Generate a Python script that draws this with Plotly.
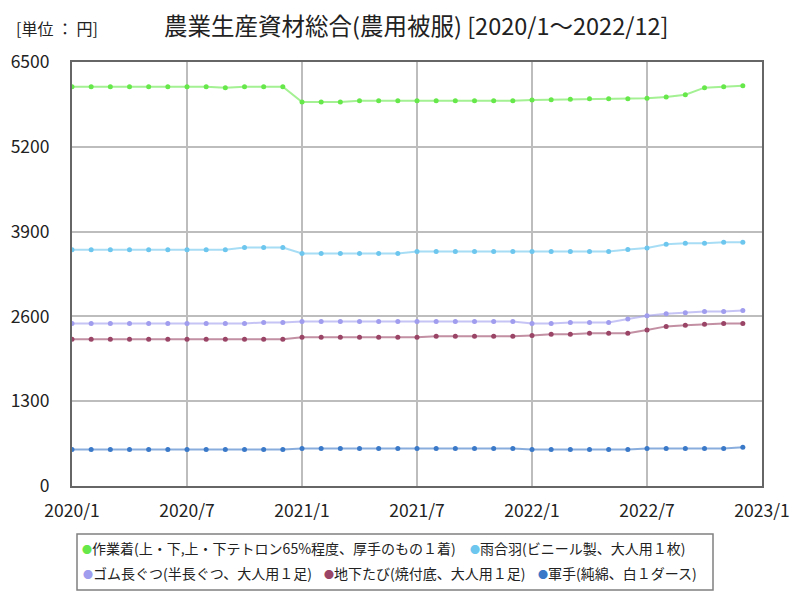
import plotly.graph_objects as go

months = [f"{y}/{m}" for y in (2020, 2021, 2022) for m in range(1, 13)]
tick_labels = ["2020/1", "2020/7", "2021/1", "2021/7", "2022/1", "2022/7", "2023/1"]
tick_pos = [0, 6, 12, 18, 24, 30, 36]

work_clothes = [6120, 6120, 6120, 6120, 6120, 6120, 6120, 6120, 6105, 6120, 6120, 6120,
                5887, 5887, 5887, 5907, 5907, 5907, 5905, 5905, 5905, 5905, 5905, 5905,
                5918, 5923, 5928, 5938, 5938, 5938, 5943, 5964, 5999, 6107, 6122, 6137]
raincoat = [3620, 3620, 3620, 3620, 3620, 3620, 3620, 3620, 3620, 3655, 3655, 3655,
            3565, 3565, 3565, 3565, 3565, 3565, 3595, 3595, 3595, 3595, 3595, 3595,
            3595, 3595, 3595, 3595, 3595, 3625, 3650, 3705, 3720, 3720, 3735, 3735]
rubber_boots = [2493, 2493, 2493, 2493, 2493, 2493, 2493, 2493, 2493, 2493, 2508, 2508,
                2522, 2522, 2522, 2522, 2522, 2522, 2522, 2522, 2522, 2522, 2522, 2522,
                2493, 2493, 2508, 2508, 2508, 2560, 2611, 2641, 2656, 2677, 2677, 2692]
jika_tabi = [2248, 2248, 2248, 2248, 2248, 2248, 2248, 2248, 2248, 2248, 2248, 2248,
             2279, 2279, 2279, 2279, 2279, 2279, 2279, 2294, 2294, 2294, 2294, 2294,
             2309, 2325, 2325, 2340, 2340, 2340, 2391, 2447, 2463, 2478, 2493, 2493]
gloves = [560, 560, 560, 560, 560, 560, 560, 560, 560, 560, 560, 560,
          575, 575, 575, 575, 575, 575, 575, 575, 575, 575, 575, 575,
          560, 560, 560, 560, 560, 560, 575, 575, 575, 575, 575, 595]

series_names = [
    "作業着(上・下,上・下テトロン65%程度、厚手のもの１着)",
    "雨合羽(ビニール製、大人用１枚)",
    "ゴム長ぐつ(半長ぐつ、大人用１足)",
    "地下たび(焼付底、大人用１足)",
    "軍手(純綿、白１ダース)",
]
series_values = [work_clothes, raincoat, rubber_boots, jika_tabi, gloves]
marker_colors = ["#66e84a", "#6cc6ee", "#a09cee", "#9a4466", "#3a78c8"]
line_colors = ["rgba(102,232,74,0.6)", "rgba(108,198,238,0.6)", "rgba(160,156,238,0.6)",
               "rgba(154,68,102,0.6)", "rgba(58,120,200,0.6)"]

W, H = 800, 600
ML, MR, MT, MB = 72, 38, 62, 114
PW, PH = W - ML - MR, H - MT - MB


def px_x(x):
    return (x - ML) / PW


def px_y(y):
    return (H - MB - y) / PH


x_idx = list(range(len(months)))

fig = go.Figure()
for name, vals, mc, lc in zip(series_names, series_values, marker_colors, line_colors):
    fig.add_trace(go.Scatter(
        x=x_idx, y=vals, name=name, mode="lines+markers",
        line=dict(color=lc, width=2),
        marker=dict(color=mc, size=5),
        customdata=months,
        hovertemplate="%{customdata}: %{y}<extra></extra>",
        showlegend=False,
    ))

font_family = "Noto Sans CJK JP"
annotations = [
    dict(text="農業生産資材総合(農用被服) [2020/1～2022/12]", x=px_x(416), y=px_y(25),
         xanchor="center", yanchor="middle", font=dict(size=23.5)),
    dict(text="[単位 ： 円]", x=px_x(14), y=px_y(28), xanchor="left", yanchor="middle",
         font=dict(size=16)),
]
# legend entries (two rows) drawn as text with a coloured dot
legend_pos = [(80, 548), (468, 548), (81, 573), (322, 573), (536, 573)]
for name, mc, (lx, ly) in zip(series_names, marker_colors, legend_pos):
    annotations.append(dict(
        text=f"<span style='color:{mc};font-size:10px'>●</span>{name}",
        x=px_x(lx), y=px_y(ly), xanchor="left", yanchor="middle",
        font=dict(size=14, color="#222"),
    ))
for a in annotations:
    a.update(xref="paper", yref="paper", showarrow=False)

fig.update_layout(
    width=W, height=H,
    margin=dict(l=ML, r=MR, t=MT, b=MB),
    paper_bgcolor="white", plot_bgcolor="white",
    font=dict(family=font_family, size=14, color="#222"),
    showlegend=False,
    annotations=annotations,
    shapes=[dict(type="rect", xref="paper", yref="paper",
                 x0=px_x(77), x1=px_x(713), y0=px_y(590), y1=px_y(534),
                 line=dict(color="#808080", width=1.5))],
)

fig.update_xaxes(
    range=[0, 36], tickmode="array", tickvals=tick_pos, ticktext=tick_labels,
    showgrid=True, gridcolor="#bdbdbd", gridwidth=2,
    showline=True, linecolor="#666", linewidth=2, mirror=True,
    ticks="", zeroline=False, tickfont=dict(size=17.5), ticklabelstandoff=8,
    automargin=False,
)
fig.update_yaxes(
    range=[0, 6500], tickmode="array", tickvals=[0, 1300, 2600, 3900, 5200, 6500],
    showgrid=True, gridcolor="#bdbdbd", gridwidth=2,
    showline=True, linecolor="#666", linewidth=2, mirror=True,
    ticks="", zeroline=False, tickfont=dict(size=17.5), ticklabelstandoff=17,
    automargin=False,
)

fig.write_html("out.html")
